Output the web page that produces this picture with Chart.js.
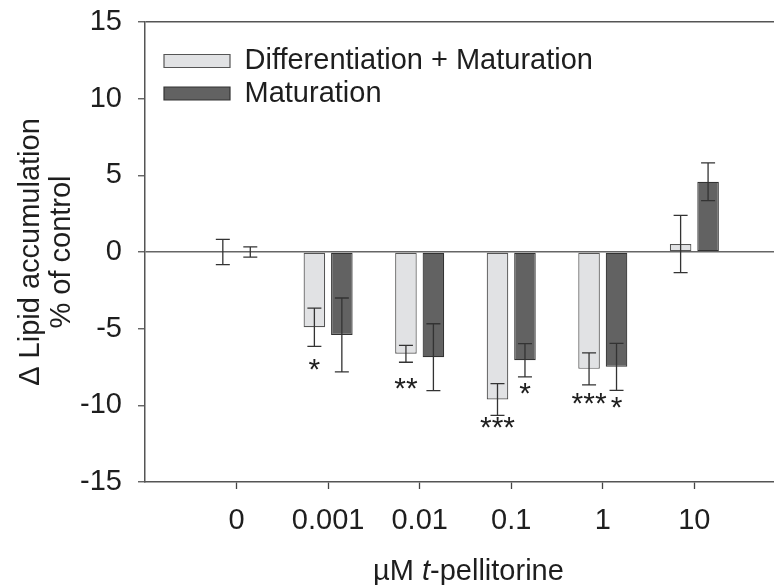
<!DOCTYPE html>
<html>
<head>
<meta charset="utf-8">
<script src="https://cdn.jsdelivr.net/npm/chart.js@4.4.1/dist/chart.umd.min.js"></script>
<style>html,body{margin:0;padding:0;background:#fff}</style>
</head>
<body>
<canvas id="chart" width="774" height="585"></canvas>
<script>
// values (% of control)
const categories = ['0', '0.001', '0.01', '0.1', '1', '10'];
const diffMat = [0, -4.91, -6.64, -9.62, -7.62, 0.52];
const diffMatErr = [0.82, 1.25, 0.55, 1.04, 1.04, 1.87];
const mat = [0, -5.41, -6.86, -7.06, -7.49, 4.58];
const matErr = [0.33, 2.41, 2.18, 1.09, 1.53, 1.23];
// significance marks and where they sit (in y units)
const diffMatStars = ['', '*', '**', '***', '***', ''];
const diffMatStarY = [null, -7.36, -8.6, -11.16, -9.6, null];
const matStars = ['', '', '', '*', '*', ''];
const matStarY = [null, null, null, -8.93, -9.82, null];
const yTicks = [-15, -10, -5, 0, 5, 10, 15];

const FONT = "'Liberation Sans', Arial, sans-serif";
const FS = 29;
const INK = '#1e1e1e';

const errs = [diffMatErr, matErr];
const stars = [diffMatStars, matStars];
const starY = [diffMatStarY, matStarY];

// error bars, asterisks and the x title (mixed italic)
const extras = {
  id: 'extras',
  afterDatasetsDraw(chart) {
    const ctx = chart.ctx, y = chart.scales.y;
    ctx.save();
    ctx.strokeStyle = '#333';
    ctx.lineWidth = 1.3;
    chart.data.datasets.forEach((ds, d) => {
      chart.getDatasetMeta(d).data.forEach((bar, i) => {
        const v = ds.data[i].y, e = errs[d][i];
        const top = y.getPixelForValue(v + e), bot = y.getPixelForValue(v - e);
        ctx.beginPath();
        ctx.moveTo(bar.x, top); ctx.lineTo(bar.x, bot);
        ctx.moveTo(bar.x - 7, top); ctx.lineTo(bar.x + 7, top);
        ctx.moveTo(bar.x - 7, bot); ctx.lineTo(bar.x + 7, bot);
        ctx.stroke();
      });
    });
    ctx.fillStyle = INK;
    ctx.font = '30px ' + FONT;
    ctx.textAlign = 'center';
    ctx.textBaseline = 'alphabetic';
    chart.data.datasets.forEach((ds, d) => {
      chart.getDatasetMeta(d).data.forEach((bar, i) => {
        if (!stars[d][i]) return;
        ctx.fillText(stars[d][i], bar.x, y.getPixelForValue(starY[d][i]) + 14);
      });
    });
    ctx.restore();
  },
  afterDraw(chart) {
    const ctx = chart.ctx, xs = chart.scales.x;
    const cx = (xs.getPixelForValue(0) + xs.getPixelForValue(categories.length - 1)) / 2 + 3;
    const parts = [['\u00b5M ', ''], ['t', 'italic '], ['-pellitorine', '']];
    ctx.save();
    ctx.fillStyle = INK;
    ctx.textBaseline = 'alphabetic';
    ctx.textAlign = 'left';
    let total = 0;
    parts.forEach(p => { ctx.font = p[1] + FS + 'px ' + FONT; total += ctx.measureText(p[0]).width; });
    let x = cx - total / 2;
    parts.forEach(p => {
      ctx.font = p[1] + FS + 'px ' + FONT;
      ctx.fillText(p[0], x, 580);
      x += ctx.measureText(p[0]).width;
    });
    ctx.restore();
  }
};

// legend sits inside the plot, top-left
const legendSpot = {
  id: 'legendSpot',
  afterLayout(chart) {
    const lg = chart.legend, a = chart.chartArea;
    lg.left = a.left + 15.5;
    lg.top = a.top + 21;
  }
};

new Chart(document.getElementById('chart').getContext('2d'), {
  type: 'bar',
  data: {
    datasets: [
      {
        label: 'Differentiation + Maturation',
        data: categories.map((c, i) => ({x: i, y: diffMat[i]})),
        backgroundColor: '#e1e2e4',
        borderColor: '#555',
        borderWidth: 1.2,
        borderSkipped: false,
        categoryPercentage: 0.6,
        barPercentage: 0.785
      },
      {
        label: 'Maturation',
        data: categories.map((c, i) => ({x: i, y: mat[i]})),
        backgroundColor: '#626262',
        borderColor: '#333',
        borderWidth: 1.2,
        borderSkipped: false,
        categoryPercentage: 0.6,
        barPercentage: 0.785
      }
    ]
  },
  options: {
    responsive: false,
    devicePixelRatio: 1,
    animation: false,
    layout: {padding: {top: 22, right: 0, bottom: 0, left: 0}},
    plugins: {
      tooltip: {enabled: false},
      legend: {
        position: 'chartArea',
        fullSize: false,
        align: 'start',
        labels: {
          boxWidth: 66, boxHeight: 13, padding: 3.5, color: INK,
          font: {family: FONT, size: FS}
        }
      }
    },
    scales: {
      x: {
        type: 'linear', min: -1, max: 5.87, offset: false,
        afterBuildTicks: s => { s.ticks = categories.map((c, i) => ({value: i})); },
        afterFit: s => { s.height = 103; },
        border: {display: true, color: '#555', width: 1.5},
        grid: {display: true, drawOnChartArea: false, offset: false, tickLength: 7, color: '#444', tickWidth: 1.3},
        ticks: {
          autoSkip: false, maxRotation: 0, padding: 15, color: INK,
          font: {family: FONT, size: FS},
          callback: v => categories[v]
        }
      },
      y: {
        min: -15, max: 15,
        afterBuildTicks: s => { s.ticks = yTicks.map(v => ({value: v})); },
        afterFit: s => { s.width = 145; s.paddingTop = 0; s.paddingBottom = 0; },
        border: {display: true, color: '#555', width: 1.5},
        grid: {
          color: c => c.tick && c.tick.value === 0 ? '#666' : (c.tick && c.tick.value === 15 ? '#555' : 'rgba(0,0,0,0)'),
          lineWidth: 1.5, tickLength: 7, tickColor: '#555', tickWidth: 1.3
        },
        ticks: {padding: 16, color: INK, font: {family: FONT, size: FS}},
        title: {
          display: true,
          text: ['\u0394 Lipid accumulation', '% of control'],
          color: INK,
          font: {family: FONT, size: FS, lineHeight: 1.086},
          padding: {top: 15, bottom: 0}
        }
      }
    }
  },
  plugins: [extras, legendSpot]
});
</script>
</body>
</html>
